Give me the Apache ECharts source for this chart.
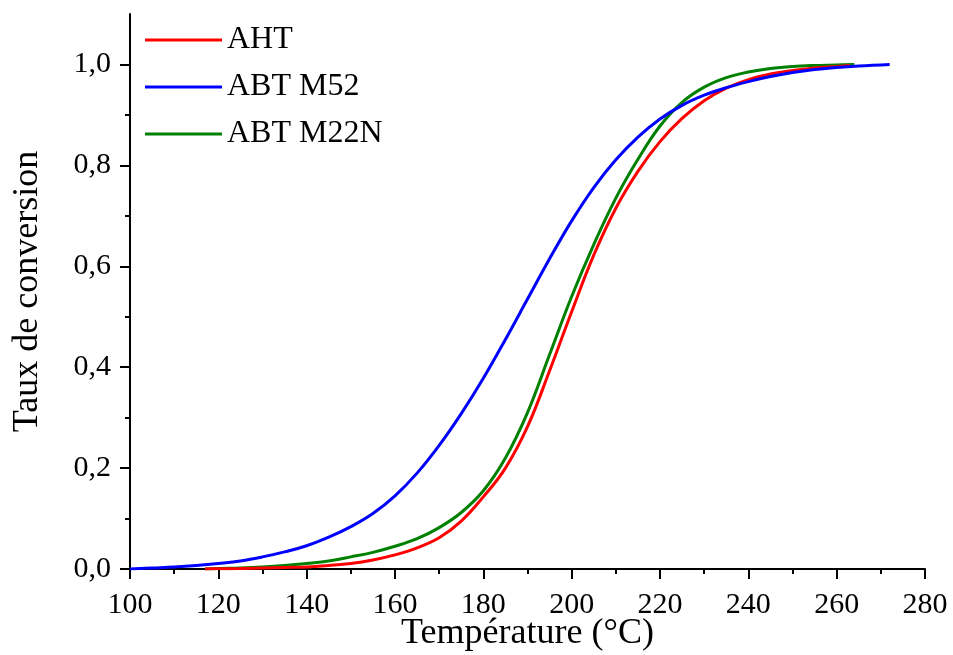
<!DOCTYPE html>
<html>
<head>
<meta charset="utf-8">
<script src="https://cdn.jsdelivr.net/npm/echarts@6/dist/echarts.min.js"></script>
<style>html,body{margin:0;padding:0;background:#fff;}#c{width:953px;height:655px;}</style>
</head>
<body>
<div id="c"></div>
<script>
const seriesNames = ['AHT', 'ABT M52', 'ABT M22N'];
const ahtT = [117,120,125,130,135,140,145,150,155,160,165,170,175,180,185,190,195,200,205,210,215,220,225,230,235,240,245,250,255,260,263];
const ahtV = [0,0.0005,0.001,0.002,0.003,0.004,0.007,0.011,0.018,0.028,0.042,0.062,0.095,0.143,0.2,0.282,0.393,0.51,0.622,0.715,0.788,0.847,0.893,0.928,0.953,0.97,0.981,0.988,0.993,0.996,0.998];
const m52T = [100,105,110,115,120,125,130,135,140,145,150,155,160,165,170,175,180,185,190,195,200,205,210,215,220,225,230,235,240,245,250,255,260,265,272];
const m52V = [0,0.002,0.004,0.007,0.011,0.016,0.024,0.034,0.046,0.063,0.084,0.11,0.145,0.19,0.245,0.308,0.378,0.455,0.535,0.615,0.69,0.756,0.811,0.856,0.892,0.919,0.939,0.954,0.966,0.976,0.984,0.99,0.994,0.997,1.0];
const m22nT = [117,120,125,130,135,140,145,150,155,160,165,170,175,180,185,190,195,200,205,210,215,220,225,230,235,240,245,250,255,260,264];
const m22nV = [0,0.001,0.002,0.004,0.007,0.011,0.016,0.024,0.033,0.045,0.06,0.082,0.112,0.155,0.22,0.31,0.425,0.54,0.643,0.735,0.812,0.878,0.925,0.955,0.974,0.985,0.992,0.996,0.998,0.999,1.0];
const yMajor = [0,0.2,0.4,0.6,0.8,1.0];
const yMinor = [0.1,0.3,0.5,0.7,0.9];

const colors = ['#ff0000', '#0000ff', '#008000'];
const font = 'Liberation Serif';
function pairs(t, v) { return t.map((x, i) => [x, v[i]]); }

const chart = echarts.init(document.getElementById('c'));
const axisLine = {lineStyle: {color: '#000', width: 2}};
function lineSeries(i, t, v, z) {
  return {name: seriesNames[i], type: 'line', data: pairs(t, v), smooth: 0.4,
    symbol: 'none', lineStyle: {color: colors[i], width: 3}, itemStyle: {color: colors[i]}, z: z};
}
chart.setOption({
  animation: false,
  backgroundColor: '#fff',
  grid: {left: 130, right: 28, top: 14, bottom: 86, containLabel: false, outerBoundsMode: 'none'},
  legend: {
    orient: 'vertical', left: 145, top: 24, padding: 0,
    icon: 'rect', itemWidth: 77, itemHeight: 3, itemGap: 15, itemTextGap: 10,
    textStyle: {fontFamily: font, fontSize: 32, color: '#000', lineHeight: 32},
    data: seriesNames
  },
  xAxis: {
    type: 'value', min: 100, max: 280, interval: 20,
    name: 'Température (°C)', nameLocation: 'middle', nameGap: 47, nameMoveOverlap: false,
    nameTextStyle: {fontFamily: font, fontSize: 36, color: '#000'},
    axisLine: axisLine,
    axisTick: {show: true, length: 10, lineStyle: {color: '#000', width: 2}},
    minorTick: {show: true, splitNumber: 2, length: 5, lineStyle: {color: '#000', width: 2}},
    splitLine: {show: false},
    axisLabel: {fontFamily: font, fontSize: 30, color: '#000', margin: 21}
  },
  yAxis: [{
    type: 'value', min: 0, max: 1.1,
    name: 'Taux de conversion', nameLocation: 'middle', nameGap: 84, nameMoveOverlap: false,
    nameTextStyle: {fontFamily: font, fontSize: 36, color: '#000'},
    axisLine: axisLine,
    axisTick: {show: true, length: 10, customValues: yMajor, lineStyle: {color: '#000', width: 2}},
    splitLine: {show: false},
    axisLabel: {customValues: yMajor, fontFamily: font, fontSize: 30, color: '#000', margin: 19,
      formatter: v => v.toFixed(1).replace('.', ',')}
  }, {
    type: 'value', min: 0, max: 1.1, position: 'left',
    axisLine: {show: false},
    axisTick: {show: true, length: 5, customValues: yMinor, lineStyle: {color: '#000', width: 2}},
    axisLabel: {show: false},
    splitLine: {show: false}
  }],
  series: [
    lineSeries(0, ahtT, ahtV, 3),
    lineSeries(1, m52T, m52V, 4),
    lineSeries(2, m22nT, m22nV, 2)
  ]
});
</script>
</body>
</html>
